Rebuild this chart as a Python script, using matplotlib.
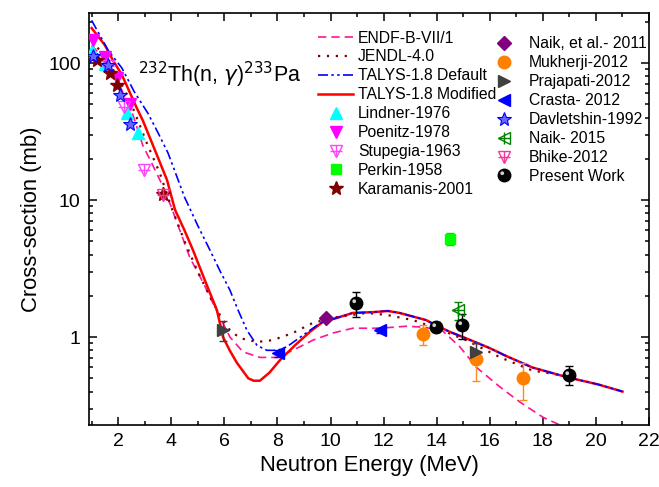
import matplotlib
matplotlib.use("Agg")
import matplotlib.pyplot as plt
import numpy as np
from matplotlib.ticker import FixedLocator, FixedFormatter, NullFormatter, MultipleLocator
from matplotlib.legend_handler import HandlerTuple
from matplotlib.path import Path

plt.rcParams['font.family'] = ['Liberation Sans', 'DejaVu Sans']

# ---------------- evaluated / model curves ----------------
endf_e = [1.0, 1.5, 2.0, 2.5, 2.93, 3.3, 3.65, 4.0, 4.7, 5.2, 5.7, 6.21, 6.7, 7.34, 7.98, 8.58,
          9.34, 10.09, 10.84, 11.86, 12.88, 13.5, 14.2, 14.87, 15.5, 16.4, 17.13, 18.0, 18.6, 19.5, 20.0]
endf_v = [135, 105, 72, 45, 25, 18, 13, 8.9, 3.8, 2.5, 1.57, 1.0, 0.78, 0.71, 0.71, 0.80,
          0.95, 1.07, 1.16, 1.16, 1.20, 1.18, 1.12, 0.85, 0.60, 0.43, 0.336, 0.26, 0.23, 0.18, 0.16]

jendl_e = [1.0, 1.5, 2.0, 2.5, 3.08, 3.57, 4.0, 4.5, 5.0, 5.5, 5.83, 6.21, 6.6, 7.23, 7.83, 8.58,
           9.34, 10.24, 11.37, 12.12, 13.1, 14.0, 15.1, 16.4, 17.6, 18.6, 19.0]
jendl_v = [145, 112, 78, 50, 26, 15.7, 8.9, 5.0, 3.0, 1.9, 1.45, 1.12, 0.98, 0.92, 0.95, 1.07,
           1.27, 1.40, 1.50, 1.45, 1.33, 1.16, 0.95, 0.71, 0.57, 0.53, 0.50]

tal_def_e = [1.0, 1.2, 1.62, 2.14, 2.6, 3.12, 3.5, 3.88, 4.5, 5.0, 5.46, 5.85, 6.21, 6.5, 6.85, 7.23,
             7.6, 8.0, 8.36, 8.96, 9.6, 10.24, 10.84, 11.6, 12.16, 12.6, 13.6, 13.97, 14.5, 15.1,
             16.0, 16.6, 17.6, 18.9, 20.1, 21.0]
tal_def_v = [205, 174, 124, 92, 62, 43, 31, 22, 10.5, 6.5, 4.3, 3.0, 2.2, 1.6, 1.12, 0.87,
             0.80, 0.80, 0.85, 1.03, 1.26, 1.38, 1.50, 1.52, 1.55, 1.50, 1.33, 1.22, 1.09, 0.98,
             0.83, 0.73, 0.60, 0.51, 0.45, 0.40]

tal_mod_e = [1.0, 1.5, 1.8, 2.14, 2.7, 2.93, 3.39, 3.84, 4.14, 4.5, 4.82, 5.3, 5.72, 5.95, 6.2, 6.47,
             6.9, 7.1, 7.34, 7.7, 8.1, 8.66, 9.22, 9.71, 10.24, 10.84, 11.6, 12.16, 12.6, 13.6,
             13.97, 14.5, 15.1, 16.0, 16.6, 17.6, 18.9, 20.1, 21.0]
tal_mod_v = [180, 135, 105, 82, 47, 38, 23, 14, 8.5, 6.0, 4.3, 2.5, 1.57, 1.0, 0.80, 0.65,
             0.50, 0.48, 0.48, 0.55, 0.68, 0.87, 1.09, 1.29, 1.38, 1.50, 1.52, 1.55, 1.50, 1.33,
             1.22, 1.09, 0.98, 0.83, 0.73, 0.60, 0.51, 0.45, 0.40]

# ---------------- experimental data ----------------
lindner_e = [1.0, 1.5, 2.33, 2.75]
lindner_v = [122, 98, 43, 31]
poenitz_e = [1.05, 1.5, 1.95, 2.45]
poenitz_v = [148, 110, 78, 50]
stupegia_e = [1.6, 2.2, 2.97]
stupegia_v = [95, 48, 16.5]
perkin_e = [14.5]
perkin_v = [5.2]
perkin_err = [0.5]
karamanis_e = [1.2, 1.7, 1.95, 3.7]
karamanis_v = [105, 85, 69, 11]
naik11_e = [9.83]
naik11_v = [1.38]
naik11_err = [0.08]
mukherji_e = [13.48, 15.48, 17.25]
mukherji_v = [1.05, 0.69, 0.50]
mukherji_err = [0.17, 0.21, 0.15]
prajapati_e = [5.95, 15.5]
prajapati_v = [1.12, 0.78]
prajapati_err = [0.19, 0.12]
crasta_e = [8.02, 11.86]
crasta_v = [0.76, 1.12]
crasta_err = [0.05, 0.05]
davlet_e = [1.05, 1.6, 2.07, 2.45]
davlet_v = [112, 97, 58, 36]
naik15_e = [14.8]
naik15_v = [1.57]
naik15_err = [0.23]
bhike_e = [3.7]
bhike_v = [10.8]
present_e = [10.96, 13.97, 14.95, 18.98]
present_v = [1.77, 1.18, 1.22, 0.53]
present_err = [0.37, 0.10, 0.25, 0.08]

fig = plt.figure(figsize=(6.59, 4.87), dpi=100)
ax = fig.add_axes([89/659, 1-425/487, 560/659, 412/487])

l_endf, = ax.plot(endf_e, endf_v, color='#ff1493', ls=(0, (5, 3)), lw=1.2, label='ENDF-B-VII/1')
l_jendl, = ax.plot(jendl_e, jendl_v, color='#800000', ls=(0, (1, 3)), lw=1.6, label='JENDL-4.0')
l_mod, = ax.plot(tal_mod_e, tal_mod_v, color='#ff0000', ls='-', lw=1.8, label='TALYS-1.8 Modified', zorder=3)
l_def, = ax.plot(tal_def_e, tal_def_v, color='#0000ff', ls=(0, (6, 2, 1.5, 2, 1.5, 2)), lw=1.2,
                 label='TALYS-1.8 Default', zorder=3.5)

ms = 8.5
h_lind, = ax.plot(lindner_e, lindner_v, ls='none', marker='^', ms=ms, color='#00ffff', zorder=4)
h_poen, = ax.plot(poenitz_e, poenitz_v, ls='none', marker='v', ms=ms, color='#ff00ff', zorder=4)
h_stu1, = ax.plot(stupegia_e, stupegia_v, ls='none', marker='v', ms=ms, mfc='none', mec='#ff44ff', mew=1.0, zorder=4)
h_stu2, = ax.plot(stupegia_e, stupegia_v, ls='none', marker='+', ms=ms, mec='#ff44ff', mew=1.0, zorder=4)
ax.errorbar(perkin_e, perkin_v, yerr=perkin_err, fmt='none', ecolor='#00dd00', elinewidth=1, capsize=3, zorder=4)
h_perk, = ax.plot(perkin_e, perkin_v, ls='none', marker='s', ms=7, color='#00ff00', zorder=5)
h_kara, = ax.plot(karamanis_e, karamanis_v, ls='none', marker='*', ms=10, color='#800000', zorder=4)
h_dav, = ax.plot(davlet_e, davlet_v, ls='none', marker='*', ms=10, mfc='#6666ff', mec='#0000ff', mew=0.8, zorder=4)
h_bh1, = ax.plot(bhike_e, bhike_v, ls='none', marker='v', ms=ms, mfc='none', mec='#ff3399', mew=1.0, zorder=5)
h_bh2, = ax.plot(bhike_e, bhike_v, ls='none', marker='+', ms=ms, mec='#ff3399', mew=1.0, zorder=5)

ax.errorbar(naik11_e, naik11_v, yerr=naik11_err, fmt='none', ecolor='#800080', elinewidth=1, capsize=3, zorder=4)
h_naik11, = ax.plot(naik11_e, naik11_v, ls='none', marker='D', ms=7, color='#800080', zorder=5)
ax.errorbar(mukherji_e, mukherji_v, yerr=mukherji_err, fmt='none', ecolor='#ff8c1a', elinewidth=1, capsize=3, zorder=4)
h_muk, = ax.plot(mukherji_e, mukherji_v, ls='none', marker='o', ms=9, color='#ff8000', zorder=5)
ax.errorbar(prajapati_e, prajapati_v, yerr=prajapati_err, fmt='none', ecolor='#404040', elinewidth=1, capsize=3, zorder=4)
h_praj, = ax.plot(prajapati_e, prajapati_v, ls='none', marker='>', ms=ms, color='#404040', zorder=5)
ax.errorbar(crasta_e, crasta_v, yerr=crasta_err, fmt='none', ecolor='#0000ff', elinewidth=1, capsize=3, zorder=4)
h_cra, = ax.plot(crasta_e, crasta_v, ls='none', marker='<', ms=ms, color='#0000ff', zorder=5)
ax.errorbar(naik15_e, naik15_v, yerr=naik15_err, fmt='none', ecolor='#008000', elinewidth=1, capsize=3, zorder=4)
h_n15a, = ax.plot(naik15_e, naik15_v, ls='none', marker='<', ms=ms, mfc='none', mec='#008000', mew=1.0, zorder=5)
h_n15b, = ax.plot(naik15_e, naik15_v, ls='none', marker='+', ms=ms, mec='#008000', mew=1.0, zorder=5)
ax.errorbar(present_e, present_v, yerr=present_err, fmt='none', ecolor='black', elinewidth=1, capsize=3, zorder=4)
h_pres, = ax.plot(present_e, present_v, ls='none', marker='o', ms=9, mfc='black', mec='black', zorder=5)
shine = Path.circle(center=(-1.2, 1.2), radius=1.0)
h_pres2, = ax.plot(present_e, present_v, ls='none', marker=shine, ms=6, mfc='#d0d0d0', mec='none', zorder=6)

ax.set_yscale('log')
ax.set_xlim(0.9, 22)
ax.set_ylim(0.228, 232)
ax.xaxis.set_minor_locator(MultipleLocator(1))
ax.set_xticks(range(2, 23, 2))
ax.yaxis.set_major_locator(FixedLocator([1, 10, 100]))
ax.yaxis.set_major_formatter(FixedFormatter(['1', '10', '100']))
minors = [m * d for d in (0.1, 1, 10, 100) for m in range(2, 10)]
ax.yaxis.set_minor_locator(FixedLocator(minors))
ax.yaxis.set_minor_formatter(NullFormatter())
ax.tick_params(which='both', direction='in', top=True, right=True, labelsize=14, width=1.1)
ax.tick_params(which='major', length=6, pad=6)
ax.tick_params(which='minor', length=3)
for s in ax.spines.values():
    s.set_linewidth(1.2)

ax.set_xlabel('Neutron Energy (MeV)', fontsize=15.8, labelpad=3)
ax.set_ylabel('Cross-section (mb)', fontsize=15.8, labelpad=4)

ax.text(0.0875, 0.85, r'$^{232}$Th(n, $\gamma$)$^{233}$Pa', transform=ax.transAxes,
        fontsize=15.5, va='center', ha='left')

hm = {tuple: HandlerTuple(ndivide=1, pad=0)}
leg1 = ax.legend([l_endf, l_jendl, l_def, l_mod, h_lind, h_poen, (h_stu1, h_stu2), h_perk, h_kara],
                 ['ENDF-B-VII/1', 'JENDL-4.0', 'TALYS-1.8 Default', 'TALYS-1.8 Modified',
                  'Lindner-1976', 'Poenitz-1978', 'Stupegia-1963', 'Perkin-1958', 'Karamanis-2001'],
                 handler_map=hm,
                 loc='upper left', bbox_to_anchor=(0.409, 0.9575), frameon=False, fontsize=11.3,
                 handlelength=2.23, handletextpad=0.32, labelspacing=0.25, borderaxespad=0, borderpad=0)
ax.add_artist(leg1)
ax.legend([h_naik11, h_muk, h_praj, h_cra, h_dav, (h_n15a, h_n15b), (h_bh1, h_bh2), (h_pres, h_pres2)],
          ['Naik, et al.- 2011', 'Mukherji-2012', 'Prajapati-2012', 'Crasta- 2012', 'Davletshin-1992',
           'Naik- 2015', 'Bhike-2012', 'Present Work'],
          handler_map=hm,
          loc='upper left', bbox_to_anchor=(0.72, 0.943), frameon=False, fontsize=11.3,
          handlelength=1.5, handletextpad=0.85, labelspacing=0.25, borderaxespad=0, borderpad=0)

fig.savefig('out.png', dpi=100)
